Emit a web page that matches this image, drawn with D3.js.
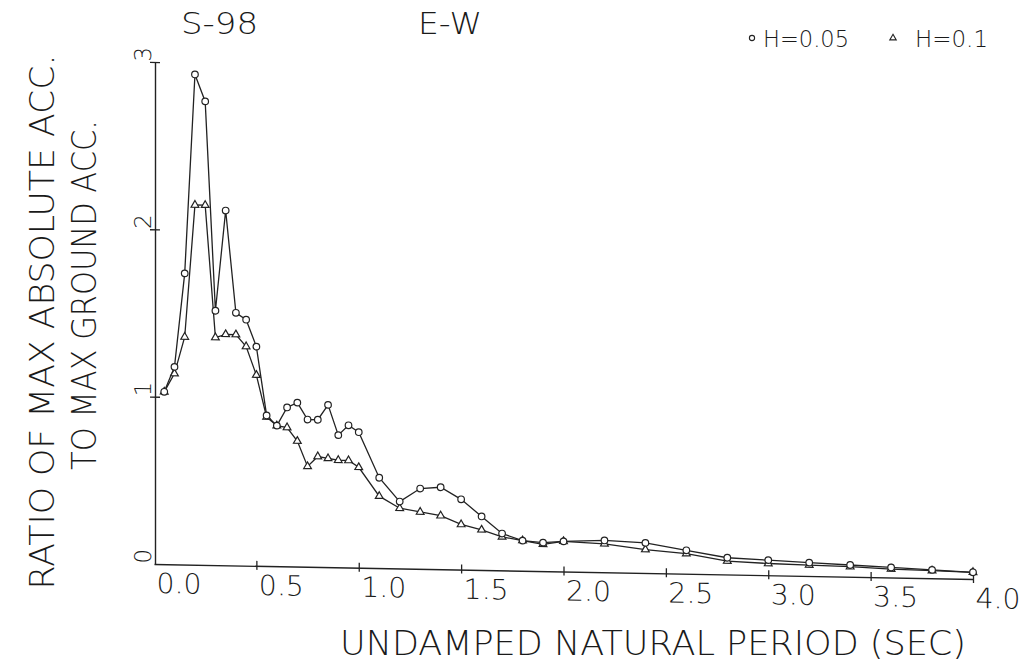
<!DOCTYPE html>
<html>
<head>
<meta charset="utf-8">
<script src="https://cdn.jsdelivr.net/npm/d3@7"></script>
<style>
  html, body { margin: 0; padding: 0; background: #fff; }
  svg { display: block; }
  text { font-family: "DejaVu Sans", sans-serif; font-weight: 200; fill: #1a1a1a; }
</style>
</head>
<body>
<svg id="chart" width="1029" height="669"></svg>
<script>
// ---- data ----
const periods = [0.05,0.10,0.15,0.20,0.25,0.30,0.35,0.40,0.45,0.50,
                 0.55,0.60,0.65,0.70,0.75,0.80,0.85,0.90,0.95,1.00,
                 1.1,1.2,1.3,1.4,1.5,1.6,1.7,1.8,1.9,2.0,
                 2.2,2.4,2.6,2.8,3.0,3.2,3.4,3.6,3.8,4.0];
const ratioH005 = [1.03,1.18,1.74,2.93,2.77,1.52,2.12,1.51,1.47,1.31,
                   0.90,0.84,0.95,0.98,0.88,0.88,0.97,0.79,0.85,0.81,
                   0.54,0.40,0.48,0.49,0.42,0.32,0.22,0.18,0.17,0.18,
                   0.19,0.18,0.14,0.10,0.09,0.08,0.07,0.06,0.05,0.04];
const ratioH01  = [1.03,1.14,1.36,2.15,2.15,1.36,1.38,1.38,1.31,1.14,
                   0.89,0.84,0.83,0.75,0.60,0.66,0.65,0.64,0.64,0.60,
                   0.43,0.36,0.34,0.32,0.27,0.24,0.20,0.18,0.16,0.18,
                   0.17,0.14,0.12,0.08,0.07,0.065,0.06,0.05,0.045,0.04];
const xTicks = [0,0.5,1,1.5,2,2.5,3,3.5,4];
const yTicks = [0,1,2,3];
const titleLeft = "S-98";
const titleMid = "E-W";
const legendLabels = ["H=0.05","H=0.1"];
const xTitle = "UNDAMPED NATURAL PERIOD (SEC)";
const yTitle1 = "RATIO OF MAX ABSOLUTE ACC.";
const yTitle2 = "TO MAX GROUND ACC.";

// ---- layout ----
const svg = d3.select("#chart");
const x = d3.scaleLinear().domain([0,4]).range([154,973]);
const y = d3.scaleLinear().domain([0,3]).range([564,62]);
const skew = 0.0183; // the plotted sheet is slightly skewed
const x0 = 155;

const plot = svg.append("g")
  .attr("transform", `matrix(1,${skew},0,1,0,${-skew*x0})`);

// x axis
const xAxis = d3.axisBottom(x).tickValues(xTicks)
  .tickFormat(d3.format(".1f"))
  .tickSizeOuter(0).tickSizeInner(0).tickPadding(0);
const gx = plot.append("g").attr("transform", `translate(0,${y(0)})`).call(xAxis);
gx.select(".domain").attr("stroke", "#222").attr("stroke-width", 1.4);
gx.selectAll(".tick line")
  .attr("y1", -5).attr("y2", 4)
  .attr("stroke", "#222").attr("stroke-width", 1.3)
  .attr("display", d => d === 0 ? "none" : null);
gx.selectAll(".tick text")
  .attr("text-anchor", "start")
  .attr("x", 2).attr("y", 29).attr("dy", 0)
  .attr("font-size", 28)
  .attr("font-family", "DejaVu Sans, sans-serif")
  .attr("font-weight", 200)
  .attr("fill", "#1a1a1a")
  .attr("textLength", 45).attr("lengthAdjust", "spacingAndGlyphs");

// y axis
const yAxis = d3.axisLeft(y).tickValues(yTicks)
  .tickFormat(d3.format("d"))
  .tickSizeOuter(0).tickSizeInner(0).tickPadding(0);
const gy = plot.append("g").attr("transform", `translate(${x0},0)`).call(yAxis);
gy.select(".domain").attr("stroke", "#222").attr("stroke-width", 1.4);
gy.selectAll(".tick line")
  .attr("x1", -5).attr("x2", 5)
  .attr("stroke", "#222").attr("stroke-width", 1.3)
  .attr("display", d => d === 0 ? "none" : null);
gy.selectAll(".tick text")
  .attr("text-anchor", "middle")
  .attr("x", 0).attr("y", 0).attr("dy", 0)
  .attr("transform", "translate(-4,-8) rotate(-90)")
  .attr("font-size", 23)
  .attr("font-family", "DejaVu Sans, sans-serif")
  .attr("font-weight", 200)
  .attr("fill", "#1a1a1a");

// series
const ser1 = periods.map((p,i) => [p, ratioH005[i]]);
const ser2 = periods.map((p,i) => [p, ratioH01[i]]);
const line = d3.line().x(d => x(d[0])).y(d => y(d[1]));
[ser2, ser1].forEach(s => {
  plot.append("path").datum(s).attr("d", line)
    .attr("fill", "none").attr("stroke", "#222").attr("stroke-width", 1.3);
});
// triangles
const tri = d3.symbol().type(d3.symbolTriangle).size(26);
plot.append("g").selectAll("path").data(ser2).join("path")
  .attr("d", tri)
  .attr("transform", d => `translate(${x(d[0])},${y(d[1])})`)
  .attr("fill", "#fff").attr("stroke", "#222").attr("stroke-width", 1.2);
// circles
plot.append("g").selectAll("circle").data(ser1).join("circle")
  .attr("cx", d => x(d[0])).attr("cy", d => y(d[1])).attr("r", 3.3)
  .attr("fill", "#fff").attr("stroke", "#222").attr("stroke-width", 1.2);

// titles
svg.append("text").attr("x", 181).attr("y", 34).attr("font-size", 30)
  .attr("textLength", 77).attr("lengthAdjust", "spacingAndGlyphs").text(titleLeft);
svg.append("text").attr("x", 418).attr("y", 34).attr("font-size", 30)
  .attr("textLength", 64).attr("lengthAdjust", "spacingAndGlyphs").text(titleMid);

// legend
const lg = svg.append("g");
lg.append("circle").attr("cx", 752).attr("cy", 38).attr("r", 2.6)
  .attr("fill", "#fff").attr("stroke", "#222").attr("stroke-width", 1.1);
lg.append("text").attr("x", 763).attr("y", 47).attr("font-size", 23)
  .attr("textLength", 86).attr("lengthAdjust", "spacingAndGlyphs").text(legendLabels[0]);
lg.append("path").attr("d", d3.symbol().type(d3.symbolTriangle).size(18)())
  .attr("transform", "translate(893,38)")
  .attr("fill", "#fff").attr("stroke", "#222").attr("stroke-width", 1.1);
lg.append("text").attr("x", 915).attr("y", 47).attr("font-size", 23)
  .attr("textLength", 73).attr("lengthAdjust", "spacingAndGlyphs").text(legendLabels[1]);

// axis titles
svg.append("text").attr("x", 340).attr("y", 655).attr("font-size", 34)
  .attr("textLength", 626).attr("lengthAdjust", "spacingAndGlyphs").text(xTitle);
svg.append("text").attr("text-anchor", "middle")
  .attr("transform", "translate(54,322) rotate(-90)").attr("font-size", 34)
  .attr("textLength", 535).attr("lengthAdjust", "spacingAndGlyphs").text(yTitle1);
svg.append("text").attr("text-anchor", "middle")
  .attr("transform", "translate(96,295) rotate(-90)").attr("font-size", 34)
  .attr("textLength", 350).attr("lengthAdjust", "spacingAndGlyphs").text(yTitle2);
</script>
</body>
</html>
